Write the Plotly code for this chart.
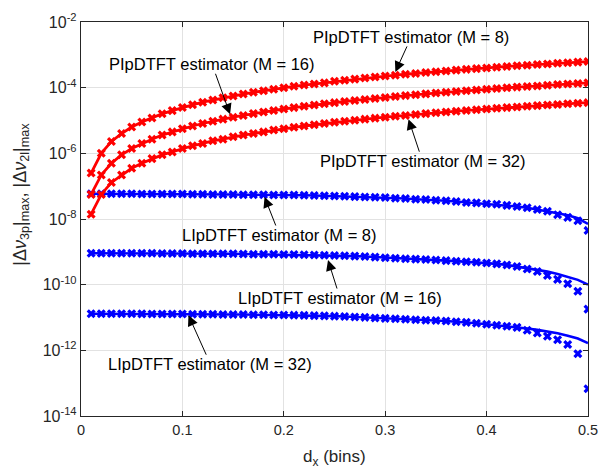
import plotly.graph_objects as go

# ---------------- data ----------------
d_bins = [0.01, 0.02, 0.03, 0.04, 0.05, 0.06, 0.07, 0.08, 0.09, 0.10,
          0.11, 0.12, 0.13, 0.14, 0.15, 0.16, 0.17, 0.18, 0.19, 0.20,
          0.21, 0.22, 0.23, 0.24, 0.25, 0.26, 0.27, 0.28, 0.29, 0.30,
          0.31, 0.32, 0.33, 0.34, 0.35, 0.36, 0.37, 0.38, 0.39, 0.40,
          0.41, 0.42, 0.43, 0.44, 0.45, 0.46, 0.47, 0.48, 0.49, 0.50]

pip_m8 = [2.5e-7, 1.0e-6, 2.3e-6, 4.0e-6, 6.3e-6, 9.0e-6, 1.2e-5, 1.6e-5, 2.0e-5, 2.5e-5,
          3.0e-5, 3.6e-5, 4.2e-5, 4.9e-5, 5.6e-5, 6.4e-5, 7.2e-5, 8.1e-5, 9.0e-5, 1.0e-4,
          1.1e-4, 1.2e-4, 1.3e-4, 1.4e-4, 1.56e-4, 1.69e-4, 1.82e-4, 1.96e-4, 2.1e-4, 2.25e-4,
          2.4e-4, 2.56e-4, 2.72e-4, 2.89e-4, 3.06e-4, 3.24e-4, 3.42e-4, 3.61e-4, 3.8e-4, 4.0e-4,
          4.2e-4, 4.41e-4, 4.62e-4, 4.84e-4, 5.06e-4, 5.29e-4, 5.52e-4, 5.76e-4, 6.0e-4, 6.25e-4]

pip_m16 = [5.6e-8, 2.2e-7, 5.0e-7, 9.0e-7, 1.4e-6, 2.0e-6, 2.7e-6, 3.6e-6, 4.5e-6, 5.6e-6,
           6.8e-6, 8.1e-6, 9.5e-6, 1.1e-5, 1.26e-5, 1.43e-5, 1.62e-5, 1.81e-5, 2.02e-5, 2.24e-5,
           2.47e-5, 2.71e-5, 2.96e-5, 3.23e-5, 3.5e-5, 3.79e-5, 4.08e-5, 4.39e-5, 4.71e-5, 5.04e-5,
           5.38e-5, 5.73e-5, 6.1e-5, 6.47e-5, 6.86e-5, 7.26e-5, 7.67e-5, 8.09e-5, 8.52e-5, 8.96e-5,
           9.41e-5, 9.88e-5, 1.04e-4, 1.08e-4, 1.13e-4, 1.19e-4, 1.24e-4, 1.29e-4, 1.34e-4, 1.40e-4]

pip_m32 = [1.4e-8, 5.6e-8, 1.3e-7, 2.2e-7, 3.5e-7, 5.0e-7, 6.9e-7, 9.0e-7, 1.1e-6, 1.4e-6,
           1.7e-6, 2.0e-6, 2.4e-6, 2.7e-6, 3.2e-6, 3.6e-6, 4.0e-6, 4.5e-6, 5.1e-6, 5.6e-6,
           6.2e-6, 6.8e-6, 7.4e-6, 8.1e-6, 8.8e-6, 9.5e-6, 1.02e-5, 1.10e-5, 1.18e-5, 1.26e-5,
           1.35e-5, 1.43e-5, 1.52e-5, 1.62e-5, 1.72e-5, 1.81e-5, 1.92e-5, 2.02e-5, 2.13e-5, 2.24e-5,
           2.35e-5, 2.47e-5, 2.59e-5, 2.71e-5, 2.84e-5, 2.96e-5, 3.09e-5, 3.23e-5, 3.36e-5, 3.50e-5]

lip_m8_theory = [5.9e-8, 5.9e-8, 5.9e-8, 5.9e-8, 5.9e-8, 5.8e-8, 5.8e-8, 5.8e-8, 5.8e-8, 5.8e-8,
                 5.7e-8, 5.7e-8, 5.6e-8, 5.6e-8, 5.6e-8, 5.5e-8, 5.5e-8, 5.5e-8, 5.4e-8, 5.4e-8,
                 5.4e-8, 5.3e-8, 5.2e-8, 5.1e-8, 5.0e-8, 4.9e-8, 4.8e-8, 4.7e-8, 4.6e-8, 4.5e-8,
                 4.3e-8, 4.2e-8, 4.0e-8, 3.9e-8, 3.7e-8, 3.6e-8, 3.4e-8, 3.2e-8, 3.1e-8, 2.9e-8,
                 2.8e-8, 2.6e-8, 2.4e-8, 2.2e-8, 1.95e-8, 1.75e-8, 1.5e-8, 1.3e-8, 1.05e-8, 7.1e-9]
lip_m8_sim = [5.9e-8, 5.9e-8, 5.9e-8, 5.9e-8, 5.9e-8, 5.8e-8, 5.8e-8, 5.8e-8, 5.8e-8, 5.8e-8,
              5.7e-8, 5.7e-8, 5.6e-8, 5.6e-8, 5.6e-8, 5.5e-8, 5.5e-8, 5.5e-8, 5.4e-8, 5.4e-8,
              5.4e-8, 5.3e-8, 5.2e-8, 5.1e-8, 5.0e-8, 4.9e-8, 4.8e-8, 4.7e-8, 4.6e-8, 4.5e-8,
              4.3e-8, 4.2e-8, 4.0e-8, 3.9e-8, 3.7e-8, 3.6e-8, 3.4e-8, 3.2e-8, 3.1e-8, 2.9e-8,
              2.8e-8, 2.6e-8, 2.4e-8, 2.2e-8, 1.95e-8, 1.72e-8, 1.35e-8, 1.12e-8, 8.9e-9, 4.5e-9]

lip_m16_theory = [9.1e-10, 9.1e-10, 9.1e-10, 9.1e-10, 9.1e-10, 9.0e-10, 9.0e-10, 8.9e-10, 8.9e-10, 8.9e-10,
                  8.8e-10, 8.8e-10, 8.7e-10, 8.7e-10, 8.7e-10, 8.6e-10, 8.5e-10, 8.5e-10, 8.4e-10, 8.3e-10,
                  8.3e-10, 8.1e-10, 8.0e-10, 7.9e-10, 7.7e-10, 7.6e-10, 7.4e-10, 7.2e-10, 6.9e-10, 6.6e-10,
                  6.4e-10, 6.2e-10, 6.0e-10, 5.8e-10, 5.6e-10, 5.4e-10, 5.2e-10, 5.0e-10, 4.8e-10, 4.6e-10,
                  4.3e-10, 4.0e-10, 3.6e-10, 3.2e-10, 2.8e-10, 2.5e-10, 2.1e-10, 1.7e-10, 1.4e-10, 1.0e-10]
lip_m16_sim = [9.1e-10, 9.1e-10, 9.1e-10, 9.1e-10, 9.1e-10, 9.0e-10, 9.0e-10, 8.9e-10, 8.9e-10, 8.9e-10,
               8.8e-10, 8.8e-10, 8.7e-10, 8.7e-10, 8.7e-10, 8.6e-10, 8.5e-10, 8.5e-10, 8.4e-10, 8.3e-10,
               8.3e-10, 8.1e-10, 8.0e-10, 7.9e-10, 7.7e-10, 7.6e-10, 7.4e-10, 7.2e-10, 6.9e-10, 6.6e-10,
               6.4e-10, 6.2e-10, 6.0e-10, 5.8e-10, 5.6e-10, 5.4e-10, 5.2e-10, 5.0e-10, 4.8e-10, 4.6e-10,
               4.3e-10, 4.0e-10, 3.6e-10, 3.0e-10, 2.5e-10, 1.9e-10, 1.45e-10, 1.07e-10, 6.3e-11, 1.8e-11]

lip_m32_theory = [1.30e-11, 1.30e-11, 1.30e-11, 1.30e-11, 1.30e-11, 1.29e-11, 1.28e-11, 1.28e-11, 1.27e-11, 1.27e-11,
                  1.26e-11, 1.25e-11, 1.25e-11, 1.24e-11, 1.24e-11, 1.23e-11, 1.22e-11, 1.21e-11, 1.20e-11, 1.19e-11,
                  1.18e-11, 1.16e-11, 1.14e-11, 1.12e-11, 1.10e-11, 1.07e-11, 1.04e-11, 1.01e-11, 9.7e-12, 9.4e-12,
                  9.1e-12, 8.9e-12, 8.6e-12, 8.3e-12, 8.1e-12, 7.8e-12, 7.4e-12, 7.1e-12, 6.7e-12, 6.2e-12,
                  5.8e-12, 5.4e-12, 5.0e-12, 4.6e-12, 4.2e-12, 3.8e-12, 3.3e-12, 2.8e-12, 2.3e-12, 1.66e-12]
lip_m32_sim = [1.30e-11, 1.30e-11, 1.30e-11, 1.30e-11, 1.30e-11, 1.29e-11, 1.28e-11, 1.28e-11, 1.27e-11, 1.27e-11,
               1.26e-11, 1.25e-11, 1.25e-11, 1.24e-11, 1.24e-11, 1.23e-11, 1.22e-11, 1.21e-11, 1.20e-11, 1.19e-11,
               1.18e-11, 1.16e-11, 1.14e-11, 1.12e-11, 1.10e-11, 1.07e-11, 1.04e-11, 1.01e-11, 9.7e-12, 9.4e-12,
               9.1e-12, 8.9e-12, 8.6e-12, 8.3e-12, 8.1e-12, 7.8e-12, 7.4e-12, 7.1e-12, 6.7e-12, 6.2e-12,
               5.8e-12, 5.4e-12, 5.0e-12, 4.1e-12, 3.4e-12, 2.7e-12, 2.1e-12, 1.5e-12, 7.9e-13, 6.8e-14]

x_tick_vals = [0, 0.1, 0.2, 0.3, 0.4, 0.5]
x_tick_text = ["0", "0.1", "0.2", "0.3", "0.4", "0.5"]
y_tick_vals = [1e-14, 1e-12, 1e-10, 1e-8, 1e-6, 1e-4, 1e-2]
y_tick_text = ["10<sup>-14</sup>", "10<sup>-12</sup>", "10<sup>-10</sup>", "10<sup>-8</sup>",
               "10<sup>-6</sup>", "10<sup>-4</sup>", "10<sup>-2</sup>"]

label_texts = ["PIpDTFT estimator (M = 8)", "PIpDTFT estimator (M = 16)", "PIpDTFT estimator (M = 32)",
               "LIpDTFT estimator (M = 8)", "LIpDTFT estimator (M = 16)", "LIpDTFT estimator (M = 32)"]

# ---------------- figure ----------------
FONT = "Liberation Sans, Arial, Helvetica, sans-serif"
RED = "#ff0000"
BLUE = "#0000ff"
AXC = "#262626"

fig = go.Figure()

for theory, sim in [(lip_m8_theory, lip_m8_sim), (lip_m16_theory, lip_m16_sim), (lip_m32_theory, lip_m32_sim)]:
    fig.add_trace(go.Scatter(x=d_bins, y=theory, mode="lines",
                             line=dict(color=BLUE, width=2.6), showlegend=False, hoverinfo="skip"))
    fig.add_trace(go.Scatter(x=d_bins, y=sim, mode="markers",
                             marker=dict(symbol="x", size=8, color=BLUE, line=dict(width=0)),
                             showlegend=False, hoverinfo="skip"))

for series in [pip_m8, pip_m16, pip_m32]:
    fig.add_trace(go.Scatter(x=d_bins, y=series, mode="lines+markers",
                             line=dict(color=RED, width=2.8),
                             marker=dict(symbol="x", size=8, color=RED, line=dict(width=0)),
                             showlegend=False, hoverinfo="skip"))

# annotation arrows: (tip x, tip log10 y, tail dx px, tail dy px)
arrow_specs = [(0.310, -3.52, 16, -35),
               (0.147, -4.81, -18, -50),
               (0.323, -4.96, 14, 42),
               (0.181, -7.33, 15, 38),
               (0.2436, -9.25, 12, 38),
               (0.106, -10.93, 22, 49)]

for txt, (tx, ty, ax, ay) in zip(label_texts, arrow_specs):
    fig.add_annotation(x=tx, y=ty, xref="x", yref="y", text=txt,
                       showarrow=True, ax=ax, ay=ay, axref="pixel", ayref="pixel",
                       arrowhead=2, arrowsize=2.1, arrowwidth=1, arrowcolor="black",
                       standoff=0, startstandoff=0,
                       font=dict(family=FONT, size=16.5, color="black"),
                       xanchor="center", yanchor="middle", borderpad=0)

# y-axis label
fig.add_annotation(x=(20 - 81) / 516.7, y=1 - (190 - 14) / 402, xref="paper", yref="paper",
                   text="|Δ<i>ν</i><sub>3p</sub>|<sub>max</sub>, |Δ<i>ν</i><sub>2l</sub>|<sub>max</sub>",
                   textangle=-90, showarrow=False, xanchor="center", yanchor="middle",
                   font=dict(family=FONT, size=18, color=AXC))
# x-axis label
fig.add_annotation(x=0.5, y=-(459 - 416) / 402, xref="paper", yref="paper",
                   text="d<sub>x</sub> (bins)", showarrow=False, xanchor="center", yanchor="middle",
                   font=dict(family=FONT, size=17, color=AXC))

axis_common = dict(showline=True, linecolor=AXC, linewidth=1.4, mirror="ticks",
                   ticks="inside", ticklen=5, tickwidth=1, tickcolor=AXC,
                   showgrid=True, gridcolor="#e2e2e2", gridwidth=1, zeroline=False)

fig.update_xaxes(range=[0, 0.5], tickmode="array", tickvals=x_tick_vals, ticktext=x_tick_text,
                 tickfont=dict(family=FONT, size=14.5, color=AXC), **axis_common)
fig.update_yaxes(type="log", range=[-14, -2], tickmode="array", tickvals=y_tick_vals,
                 ticktext=y_tick_text, tickfont=dict(family=FONT, size=16, color=AXC), **axis_common)

fig.update_layout(width=609, height=473, margin=dict(l=81, r=11, t=14, b=57, pad=0),
                  paper_bgcolor="white", plot_bgcolor="white", showlegend=False,
                  font=dict(family=FONT, color=AXC))

fig.write_html("out.html")
